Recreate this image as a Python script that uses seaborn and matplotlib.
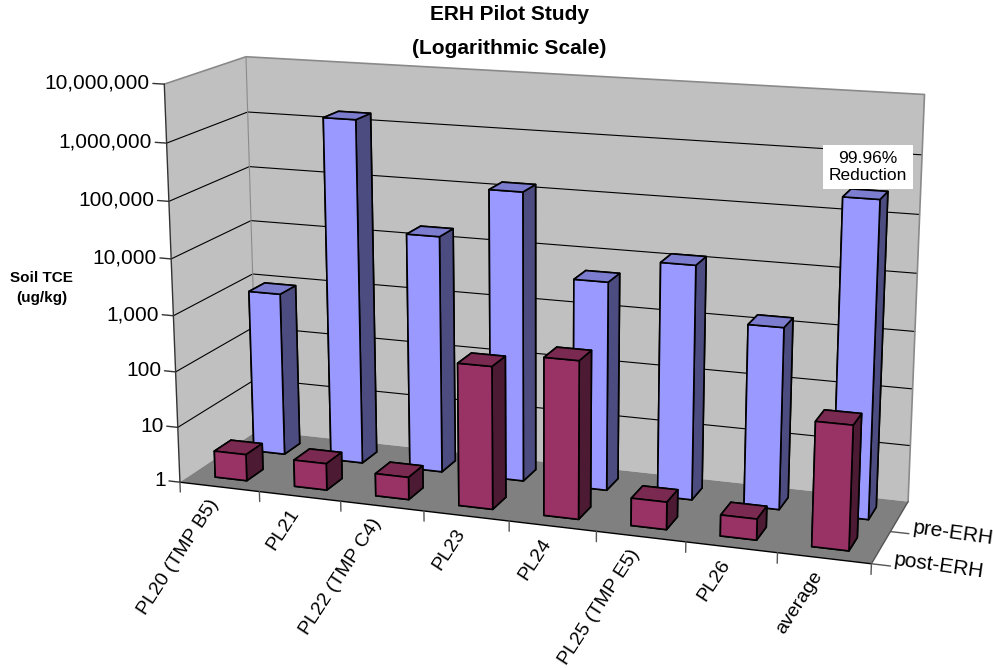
import numpy as np
import matplotlib
matplotlib.use("Agg")
import matplotlib.pyplot as plt
import seaborn as sns
from mpl_toolkits.mplot3d import proj3d

categories = ["PL20 (TMP B5)", "PL21", "PL22 (TMP C4)", "PL23", "PL24", "PL25 (TMP E5)", "PL26", "average"]
post_erh = [3, 3, 2.5, 320, 560, 3, 2.3, 130]
pre_erh = [950, 1600000, 18000, 140000, 5000, 13000, 1500, 280000]
tick_labels = ["1", "10", "100", "1,000", "10,000", "100,000", "1,000,000", "10,000,000"]

sns.set_theme(style="white")
plt.rcParams["font.family"] = ["Liberation Sans", "DejaVu Sans"]

fig = plt.figure(figsize=(9.93, 6.68), dpi=100)
# 3d axes are always square, so make it wider than the figure is tall
ax = fig.add_axes([0.03, -0.205, 1, 1.487], projection="3d")
ax.computed_zorder = False
ax.set_proj_type("persp", focal_length=0.45)
ax.view_init(elev=14.5, azim=-71, roll=0)
ax.set_box_aspect((8, 2.05, 4.6), zoom=0.835)
ax.set_xlim(0, 8)
ax.set_ylim(0, 2)
ax.set_zlim(0, 7)
ax.set_axis_off()


def label(x, y, z, s, dx=0, dy=0, **kw):
    # 3d text ignores rotation, so put it in 2d at the projected spot
    px, py, _ = proj3d.proj_transform(x, y, z, ax.get_proj())
    ax.annotate(s, (px, py), xycoords="data", xytext=(dx, dy), textcoords="offset pixels",
                color="black", annotation_clip=False, **kw)


# walls and floor
wall = "#c0c0c0"
ax.plot_surface(np.array([[0, 8], [0, 8]]), np.array([[2, 2], [2, 2]]), np.array([[0, 0], [7, 7]]),
                color=wall, shade=False, edgecolor="none", zorder=1)
ax.plot_surface(np.array([[0, 0], [0, 0]]), np.array([[0, 2], [0, 2]]), np.array([[0, 0], [7, 7]]),
                color=wall, shade=False, edgecolor="none", zorder=1)
ax.plot_surface(np.array([[0, 8], [0, 8]]), np.array([[0, 0], [2, 2]]), np.array([[0, 0], [0, 0]]),
                color="#808080", shade=False, edgecolor="none", zorder=1)
for d in range(1, 7):
    ax.plot([0, 0, 8], [0, 2, 2], [d, d, d], color="black", lw=0.8, zorder=2)
ax.plot([0, 0, 8, 8], [0, 2, 2, 2], [7, 7, 7, 0], color="#8a8a8a", lw=1.2, zorder=2)
ax.plot([0, 0], [2, 2], [0, 7], color="#8a8a8a", lw=0.8, zorder=2)
ax.plot([0, 0], [0, 0], [0, 7], color="#333333", lw=1, zorder=2)
ax.plot([0, 8], [0, 0], [0, 0], color="black", lw=1, zorder=2)
ax.plot([8, 8], [0, 2], [0, 0], color="#555555", lw=1, zorder=2)

# axis ticks and labels
for d in range(8):
    ax.plot([0, -0.14], [0, 0], [d, d], color="#333333", lw=1, zorder=2)
    label(-0.14, 0, d, tick_labels[d], dx=-3, ha="right", va="center", fontsize=15)
for i in range(9):
    ax.plot([i, i], [0, 0], [0, -0.18], color="#555555", lw=1, zorder=2)
for i in range(8):
    label(i + 0.5, 0, -0.2, categories[i], dx=-12, dy=2, rotation=57, rotation_mode="anchor",
          ha="right", va="top", fontsize=14)
for row, name in zip([0, 1], ["post-ERH", "pre-ERH"]):
    ax.plot([8, 8.2], [row, row], [0, 0], color="#555555", lw=1, zorder=2)
    label(8.2, row, 0, name, dx=4, dy=6, rotation=-8, rotation_mode="anchor",
          ha="left", va="center", fontsize=15)


def face_colors(top, front, side):
    # bar3d order: -z, +z, -y, +y, -x, +x
    return [top, top, front, front, side, side]


w = 0.4
d = 0.42
for row, values, cols in [(1, pre_erh, ("#7d7dd0", "#9999ff", "#4c4c80")),
                          (0, post_erh, ("#7a2950", "#993366", "#4c1a33"))]:
    for i in np.arange(len(categories)):
        ax.bar3d(i + 0.5 - w / 2, row + 0.5 - d / 2, 0, w, d, np.log10(values[i]),
                 color=face_colors(*cols), shade=False, edgecolor="black", linewidth=1.2,
                 zorder=10 + (1 - row) * 10 + i)

label(7.5, 1.5, 5.75, "99.96%\nReduction", dx=2, dy=9, ha="center", va="center", fontsize=12.5, zorder=40,
      bbox=dict(facecolor="white", edgecolor="none", pad=4))

fig.text(0.513, 0.978, "ERH Pilot Study", ha="center", va="center", fontsize=15, fontweight="bold", color="black")
fig.text(0.513, 0.928, "(Logarithmic Scale)", ha="center", va="center", fontsize=15, fontweight="bold", color="black")
fig.text(0.042, 0.569, "Soil TCE\n(ug/kg)", ha="center", va="center", fontsize=11, fontweight="bold",
         color="black", linespacing=1.5)

fig.savefig("out.png", dpi=100)
